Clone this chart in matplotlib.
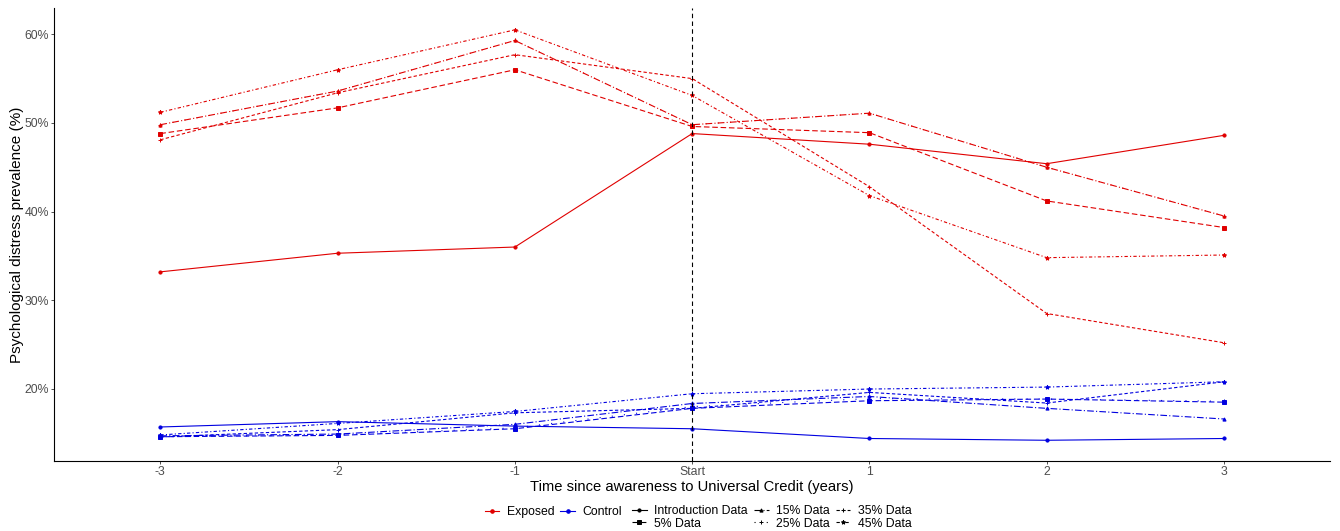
import matplotlib
matplotlib.use("Agg")
import matplotlib.pyplot as plt
from matplotlib.lines import Line2D
from matplotlib.ticker import FuncFormatter

plt.rcParams['font.family'] = ['Liberation Sans', 'DejaVu Sans']

# time points and labels
x = [-3, -2, -1, 0, 1, 2, 3]
x_labels = ['-3', '-2', '-1', 'Start', '1', '2', '3']

levels = ['Introduction Data', '5% Data', '15% Data', '25% Data', '35% Data', '45% Data']

# Exposed group (proportion)
exp_intro = [0.332, 0.353, 0.360, 0.488, 0.476, 0.454, 0.486]
exp_5 = [0.488, 0.517, 0.560, 0.496, 0.489, 0.412, 0.382]
exp_15 = [0.498, 0.536, 0.593, 0.498, 0.511, 0.450, 0.395]
exp_25 = [0.498, 0.536, 0.593, 0.498, 0.511, 0.450, 0.395]
exp_35 = [0.481, 0.534, 0.577, 0.550, 0.428, 0.285, 0.252]
exp_45 = [0.512, 0.560, 0.605, 0.531, 0.418, 0.348, 0.351]

# Control group
ctl_intro = [0.157, 0.163, 0.158, 0.155, 0.144, 0.142, 0.144]
ctl_5 = [0.146, 0.1475, 0.155, 0.178, 0.1866, 0.1885, 0.185]
ctl_15 = [0.147, 0.149, 0.160, 0.1835, 0.1914, 0.178, 0.166]
ctl_25 = [0.146, 0.148, 0.156, 0.180, 0.189, 0.1885, 0.186]
ctl_35 = [0.1457, 0.154, 0.173, 0.178, 0.196, 0.184, 0.208]
ctl_45 = [0.148, 0.161, 0.1745, 0.1945, 0.1998, 0.202, 0.208]

exposed = [exp_intro, exp_5, exp_15, exp_25, exp_35, exp_45]
control = [ctl_intro, ctl_5, ctl_15, ctl_25, ctl_35, ctl_45]

linestyles = ['-', (0, (5, 2.5)), (0, (6, 2, 1, 2)), (0, (1, 10)), (0, (3, 2)), (0, (3, 2, 1, 2))]
markers = ['o', 's', '^', '+', '+', '*']
msizes = [2.3, 2.3, 2.3, 3, 3.5, 3]

red = '#E00000'
blue = '#0000E0'

fig = plt.figure(figsize=(13.4, 5.31), dpi=100)
ax = fig.add_axes([0.0403, 0.1318, 0.9525, 0.8532])

for grp, col in [(exposed, red), (control, blue)]:
    for vals, ls, mk, ms in zip(grp, linestyles, markers, msizes):
        ax.plot(x, vals, color=col, linestyle=ls, linewidth=0.8,
                marker=mk, markersize=ms, markeredgewidth=0.7)

ax.axvline(0, color='black', linestyle=(0, (4, 3)), linewidth=0.8)

ax.set_xlim(-3.6, 3.6)
ax.set_ylim(0.1186, 0.6297)
ax.set_xticks(x)
ax.set_xticklabels(x_labels)
ax.set_yticks([0.2, 0.3, 0.4, 0.5, 0.6])
ax.yaxis.set_major_formatter(FuncFormatter(lambda v, p: '%d%%' % round(v * 100)))
ax.tick_params(labelsize=8.8, colors='#4D4D4D', length=2.5, width=0.6, pad=1)
ax.tick_params(axis='both', labelcolor='#4D4D4D', color='#333333')
for s in ['top', 'right']:
    ax.spines[s].set_visible(False)
for s in ['left', 'bottom']:
    ax.spines[s].set_linewidth(0.8)

ax.set_xlabel('Time since awareness to Universal Credit (years)', fontsize=10.6)
ax.set_ylabel('Psychological distress prevalence (%)', fontsize=11)
ax.xaxis.set_label_coords(0.5, -0.041)
ax.yaxis.set_label_coords(-0.0236, 0.5)

col_handles = [Line2D([], [], color=red, marker='o', markersize=2.3, linewidth=0.8),
               Line2D([], [], color=blue, marker='o', markersize=2.3, linewidth=0.8)]
leg1 = fig.legend(col_handles, ['Exposed', 'Control'], loc='center',
                  bbox_to_anchor=(0.413, 0.0355), ncol=2, frameon=False,
                  fontsize=8.8, handlelength=1.2, handletextpad=0.6, columnspacing=0.5)

lt_handles = [Line2D([], [], color='black', linestyle=ls, marker=mk, markersize=ms,
                     linewidth=0.8, markeredgewidth=0.7)
              for ls, mk, ms in zip(linestyles, markers, msizes)]
leg2 = fig.legend(lt_handles, levels, loc='center', bbox_to_anchor=(0.576, 0.0255),
                  ncol=3, frameon=False, fontsize=8.8, handlelength=1.2,
                  handletextpad=0.6, columnspacing=0.5, labelspacing=0.05)

fig.savefig('out.png', dpi=100)
